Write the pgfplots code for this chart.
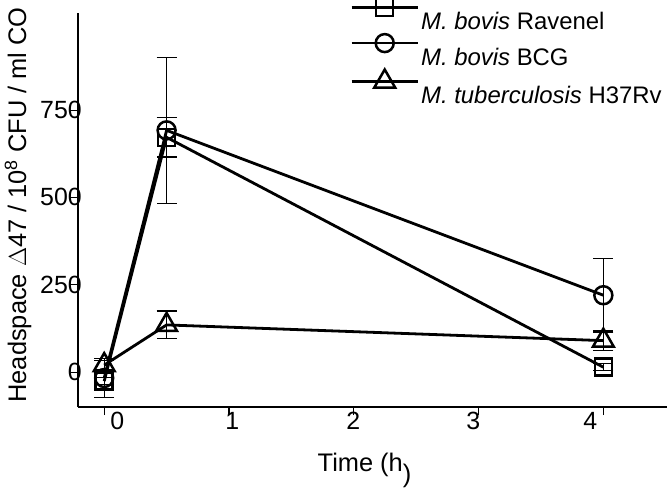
\documentclass[border=0pt]{standalone}
\usepackage{pgfplots}
\pgfplotsset{compat=1.18}
\usepackage{fontspec}
\setmainfont{Liberation Sans}
\pgfplotsset{
    eb/.style={error bars/.cd, y dir=both, y explicit,
        error bar style={line width=1.2bp, black, solid},
        error mark options={rotate=90, mark size=10bp, line width=1.2bp, black, solid}},
}
\begin{document}
\begin{tikzpicture}
\begin{axis}[
    scale only axis,
    width=589bp, height=394bp,
    xmin=-0.21, xmax=4.51, ymin=-100, ymax=1028,
    axis lines=left,
    axis line style={-, line width=1.3bp},
    tick align=outside,
    major tick length=8bp,
    tick style={line width=1.1bp, black},
    xtick={0,1,2,3,4}, xticklabels={},
    extra x ticks={0.104,1.026,1.996,2.957,3.896},
    extra x tick labels={0,1,2,3,4},
    extra x tick style={major tick length=0pt},
    ytick={0,250,500,750},
    yticklabel style={anchor=east, inner sep=0pt, xshift=12bp},
    xticklabel style={anchor=north, inner sep=0pt, yshift=-5bp},
    /pgf/number format/assume math mode=true,
    every tick label/.append style={font=\fontsize{25}{25}\selectfont},
    label style={font=\fontsize{25.5}{28}\selectfont},
    xlabel={Time (h\raisebox{-11bp}{)}},
    xlabel style={at={(rel axis cs:0.5,0)}, anchor=north, xshift=-8bp, yshift=-46bp, inner sep=0pt},
    ylabel={Headspace $\Delta$47 / 10\textsuperscript{8} CFU / ml CO},
    ylabel style={at={([xshift=-60bp]rel axis cs:0,0.513)}, anchor=center},
    legend style={draw=none, fill=none, at={(rel axis cs:0.462,1)}, anchor=north west,
        yshift=14bp, font=\fontsize{24}{28}\selectfont, row sep=1bp,
        inner sep=0pt, cells={anchor=west}},
    legend image code/.code={\draw[#1, mark repeat=2, mark phase=2] plot coordinates {(0bp,14bp) (33bp,14bp) (66bp,14bp)};},
]
\coordinate (ll) at (rel axis cs:0,0);
\coordinate (ur) at (rel axis cs:1,1);
\addplot[black, line width=2.8bp, mark=square, mark size=8.5bp, mark options={fill=white, line width=2.5bp, solid}, eb]
    coordinates {(0,-26) +- (0,10) (0.5,672) +- (0,56) (4,14) +- (0,10)};
\addlegendentry{\textit{M. bovis} Ravenel}
\addplot[black, line width=2.8bp, mark=o, mark size=9bp, mark options={fill=white, line width=2.5bp, solid}, eb]
    coordinates {(0,-17) +- (0,55) (0.5,692) +- (0,209) (4,220) +- (0,105)};
\addlegendentry{\textit{M. bovis} BCG}
\addplot[black, line width=2.8bp, mark=triangle, mark size=12bp, mark options={fill=white, line width=2.5bp, solid}, eb]
    coordinates {(0,20) +- (0,12) (0.5,135) +- (0,40) (4,90) +- (0,28)};
\addlegendentry{\textit{M. tuberculosis} H37Rv}
\end{axis}
\pgfresetboundingbox
\path ([shift={(-78bp,-81bp)}]ll) rectangle ([shift={(0bp,13bp)}]ur);
\end{tikzpicture}
\end{document}
